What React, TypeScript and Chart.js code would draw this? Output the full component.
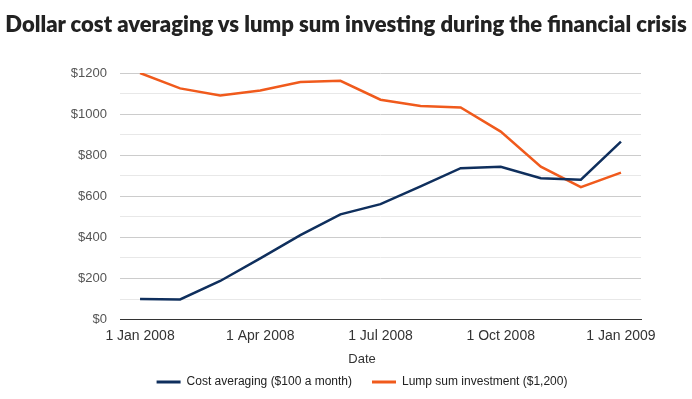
import React, { useEffect, useRef } from 'react';
import { Chart, registerables } from 'chart.js';

Chart.register(...registerables);

const chartTitle = 'Dollar cost averaging vs lump sum investing during the financial crisis';
const categories = [
  '1 Jan 2008', '1 Feb 2008', '1 Mar 2008', '1 Apr 2008', '1 May 2008', '1 Jun 2008',
  '1 Jul 2008', '1 Aug 2008', '1 Sep 2008', '1 Oct 2008', '1 Nov 2008', '1 Dec 2008', '1 Jan 2009',
];
const xTickLabels = ['1 Jan 2008', '1 Apr 2008', '1 Jul 2008', '1 Oct 2008', '1 Jan 2009'];
const costAveraging = [100, 98, 188, 298, 411, 512, 562, 648, 737, 744, 688, 681, 866];
const lumpSum = [1200, 1125, 1091, 1115, 1156, 1162, 1070, 1040, 1032, 915, 744, 645, 715];
const seriesNames = ['Cost averaging ($100 a month)', 'Lump sum investment ($1,200)'];
const xAxisTitle = 'Date';

const FONT = '"Liberation Sans", Arial, sans-serif';

// lets the y tick labels spill into the left padding instead of being clipped
const labelRoomPlugin = {
  id: 'labelRoom',
  afterLayout(chart: any) {
    const y = chart.scales.y;
    if (y) y.left = 0;
  },
};

export default function App() {
  const ref = useRef<HTMLCanvasElement>(null);

  useEffect(() => {
    document.body.style.margin = '0';
    const chart = new Chart(ref.current!, {
      type: 'line',
      data: {
        labels: categories,
        datasets: [
          {
            label: seriesNames[0],
            data: costAveraging,
            borderColor: '#0f2f5d',
            backgroundColor: '#0f2f5d',
            borderWidth: 2.5,
            pointRadius: 0,
            tension: 0,
          },
          {
            label: seriesNames[1],
            data: lumpSum,
            borderColor: '#f05a1c',
            backgroundColor: '#f05a1c',
            borderWidth: 2.5,
            pointRadius: 0,
            tension: 0,
          },
        ],
      },
      plugins: [labelRoomPlugin],
      options: {
        responsive: false,
        animation: false,
        layout: { padding: { left: 83, right: 51, top: 73, bottom: 1 } },
        scales: {
          x: {
            type: 'category',
            offset: true,
            grid: { display: false, drawTicks: false },
            border: { display: true, color: '#333' },
            ticks: {
              autoSkip: false,
              maxRotation: 0,
              padding: 8,
              color: '#333',
              font: { family: FONT, size: 14 },
              callback: (_v: any, i: number) =>
                xTickLabels.includes(categories[i]) ? categories[i] : '',
            },
          },
          y: {
            min: 0,
            max: 1200,
            border: { display: false },
            grid: {
              drawTicks: false,
              color: (ctx: any) =>
                ctx.tick.value === 0 ? '#333' : ctx.tick.value % 200 === 0 ? '#cccccc' : '#e8e8e8',
            },
            ticks: {
              stepSize: 100,
              padding: 13,
              color: '#555',
              font: { family: FONT, size: 13 },
              callback: (v: any) => (Number(v) % 200 === 0 ? '$' + v : ''),
            },
            afterFit: (s: any) => {
              s.width = 37;
            },
          },
        },
        plugins: {
          title: { display: false },
          subtitle: {
            display: true,
            text: xAxisTitle,
            position: 'bottom',
            weight: 500,
            color: '#333',
            font: { family: FONT, size: 13, weight: 'normal' },
            padding: { top: -1, bottom: -11 },
          },
          legend: {
            position: 'bottom',
            weight: 1000,
            labels: {
              boxWidth: 24,
              boxHeight: 3,
              padding: 20,
              color: '#222',
              font: { family: FONT, size: 12 },
              generateLabels: (c: any) =>
                Chart.defaults.plugins.legend.labels
                  .generateLabels(c)
                  .map((l: any) => ({ ...l, lineWidth: 0 })),
            },
          },
          tooltip: { enabled: false },
        },
      },
    });
    return () => chart.destroy();
  }, []);

  return (
    <div style={{ position: 'relative', width: 692, height: 399, background: '#fff' }}>
      <canvas ref={ref} width={692} height={399} style={{ display: 'block' }} />
      <div
        style={{
          position: 'absolute',
          left: 0,
          top: 10,
          width: 692,
          textAlign: 'center',
          fontFamily: 'Lato, sans-serif',
          fontWeight: 800,
          fontSize: 22,
          lineHeight: '28px',
          color: '#222',
          whiteSpace: 'nowrap',
        }}
      >
        {chartTitle}
      </div>
    </div>
  );
}
